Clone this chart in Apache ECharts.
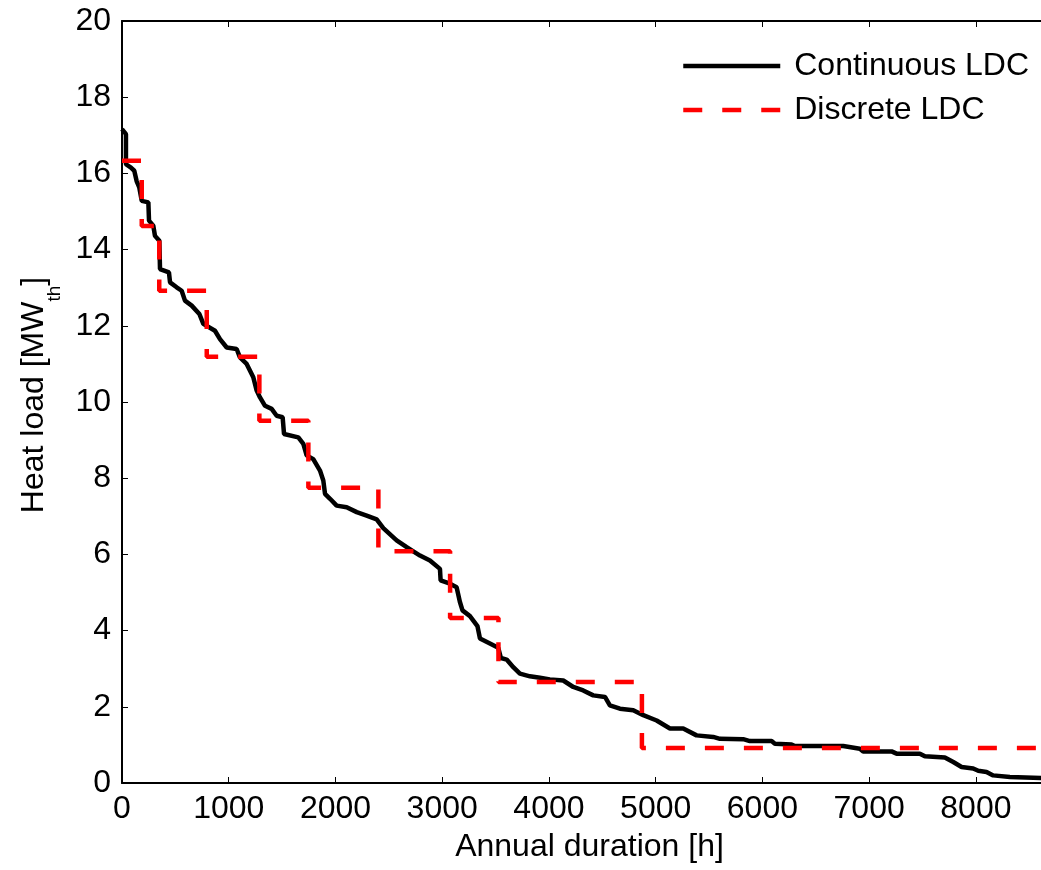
<!DOCTYPE html>
<html lang="en">
<head>
    <meta charset="UTF-8">
    <title>Load duration curve</title>
    <script src="https://cdn.jsdelivr.net/npm/echarts@6/dist/echarts.min.js"></script>
    <style>
        body { margin: 0; background: #fff; }
    </style>
</head>
<body>
<div id="myChart" style="width: 1041px;height: 870px;"></div>

<script>
    // continuous load duration curve (hours, MW_th)
    var contHours = [0, 37, 37, 84, 115, 137, 162, 185, 247, 253, 293, 309, 350, 356, 440, 450, 512, 559, 590, 653, 725,
        762, 871, 918, 981, 1074, 1105, 1168, 1230, 1262, 1293, 1340, 1402, 1449, 1505, 1518, 1652, 1699, 1730, 1792,
        1855, 1886, 1902, 1949, 2011, 2105, 2199, 2292, 2386, 2448, 2573, 2667, 2792, 2885, 2979, 2985, 3073, 3135,
        3166, 3190, 3260, 3330, 3354, 3447, 3525, 3550, 3604, 3666, 3728, 3822, 3916, 4009, 4134, 4228, 4321, 4415,
        4525, 4571, 4665, 4790, 4884, 5009, 5134, 5258, 5383, 5539, 5602, 5820, 5883, 6086, 6117, 6273, 6304, 6757,
        6913, 6944, 7210, 7257, 7475, 7522, 7709, 7788, 7866, 7975, 8022, 8100, 8162, 8319, 8334, 8760];
    var contLoad = [17.16, 17.03, 16.24, 16.15, 16.07, 15.8, 15.63, 15.28, 15.24, 14.76, 14.63, 14.36, 14.23, 13.49, 13.4,
        13.14, 13.01, 12.92, 12.66, 12.53, 12.31,
        12.05, 11.87, 11.65, 11.43, 11.39, 11.17, 11.0, 10.65, 10.3, 10.12, 9.9, 9.82, 9.64, 9.6, 9.16, 9.07, 8.9, 8.6, 8.5,
        8.2, 7.94, 7.59, 7.46, 7.28, 7.24, 7.11, 7.02, 6.92, 6.69, 6.37, 6.19, 5.97, 5.84, 5.62, 5.32, 5.23, 5.14,
        4.75, 4.53, 4.38, 4.12, 3.79, 3.66, 3.55, 3.28, 3.24, 3.04, 2.87, 2.8, 2.76, 2.72, 2.69, 2.52, 2.43, 2.3,
        2.26, 2.04, 1.95, 1.91, 1.78, 1.64, 1.43, 1.43, 1.25, 1.21, 1.16, 1.15, 1.1, 1.1, 1.03, 1.01, 0.97, 0.97,
        0.9, 0.83, 0.83, 0.77, 0.77, 0.7, 0.67, 0.55, 0.42, 0.38, 0.32, 0.29, 0.2, 0.16, 0.12, 0.12];

    // discrete LDC: start hour of each block and its level
    var discHours = [0, 185, 349, 794, 1287, 1746, 2402, 3074, 3527, 4871, 8760];
    var discLoad = [16.33, 14.62, 12.92, 11.19, 9.51, 7.75, 6.08, 4.33, 2.65, 0.92, 0.92];

    var seriesNames = ['Continuous LDC', 'Discrete LDC'];

    var font = '"Liberation Sans", Arial, sans-serif';

    function pairs(xs, ys) {
        var out = [];
        for (var i = 0; i < xs.length; i++) {
            out.push([xs[i], ys[i]]);
        }
        return out;
    }

    var myChart = echarts.init(document.getElementById('myChart'));

    var option = {
        animation: false,
        backgroundColor: '#fff',
        grid: {
            left: 122,
            right: -16,
            top: 21,
            bottom: 87,
            containLabel: false,
            outerBoundsMode: 'none'
        },
        legend: {
            data: seriesNames,
            orient: 'vertical',
            left: 681,
            top: 48,
            padding: 0,
            itemWidth: 97,
            itemHeight: 14,
            itemGap: 8,
            itemStyle: {opacity: 0},
            lineStyle: {width: 4.5},
            textStyle: {
                fontSize: 32,
                fontFamily: font,
                color: '#000',
                lineHeight: 36,
                padding: [0, 0, 0, 9]
            }
        },
        xAxis: [{
            type: 'value',
            min: 0,
            max: 8760,
            interval: 1000,
            name: 'Annual duration [h]',
            nameLocation: 'middle',
            nameGap: 48,
            nameTextStyle: {fontSize: 32, fontFamily: font, color: '#000'},
            axisLine: {show: true, lineStyle: {color: '#000', width: 2}},
            axisTick: {show: true, inside: true, length: 6, lineStyle: {color: '#000', width: 1}},
            axisLabel: {
                fontSize: 32, fontFamily: font, color: '#000', margin: 10,
                formatter: function (v) { return v % 1000 === 0 ? String(v) : ''; }
            },
            splitLine: {show: false}
        }, {
            type: 'value',
            position: 'top',
            min: 0,
            max: 8760,
            interval: 1000,
            axisLine: {show: true, lineStyle: {color: '#000', width: 2}},
            axisTick: {show: true, inside: true, length: 6, lineStyle: {color: '#000', width: 1}},
            axisLabel: {show: false},
            splitLine: {show: false}
        }],
        yAxis: {
            type: 'value',
            min: 0,
            max: 20,
            interval: 2,
            name: '{a|Heat load [MW}{b|th}{a|]}',
            nameLocation: 'middle',
            nameGap: 62,
            nameTextStyle: {
                padding: [0, 0, 0, 14],
                rich: {
                    a: {fontSize: 32, fontFamily: font, color: '#000', lineHeight: 30, verticalAlign: 'top'},
                    b: {fontSize: 19, fontFamily: font, color: '#000', lineHeight: 18, verticalAlign: 'top', padding: [27, 0, 0, 0]}
                }
            },
            axisLine: {show: true, lineStyle: {color: '#000', width: 2}},
            axisTick: {show: true, inside: true, length: 6, lineStyle: {color: '#000', width: 1}},
            axisLabel: {fontSize: 32, fontFamily: font, color: '#000', margin: 11},
            splitLine: {show: false}
        },
        series: [{
            name: seriesNames[0],
            type: 'line',
            data: pairs(contHours, contLoad),
            symbol: 'none',
            smooth: false,
            color: '#000',
            lineStyle: {color: '#000', width: 4.5}
        }, {
            name: seriesNames[1],
            type: 'line',
            data: pairs(discHours, discLoad),
            step: 'end',
            symbol: 'none',
            color: '#ff0000',
            lineStyle: {color: '#ff0000', width: 4.5, type: [19, 20]}
        }]
    };

    myChart.setOption(option);
</script>
</body>
</html>
